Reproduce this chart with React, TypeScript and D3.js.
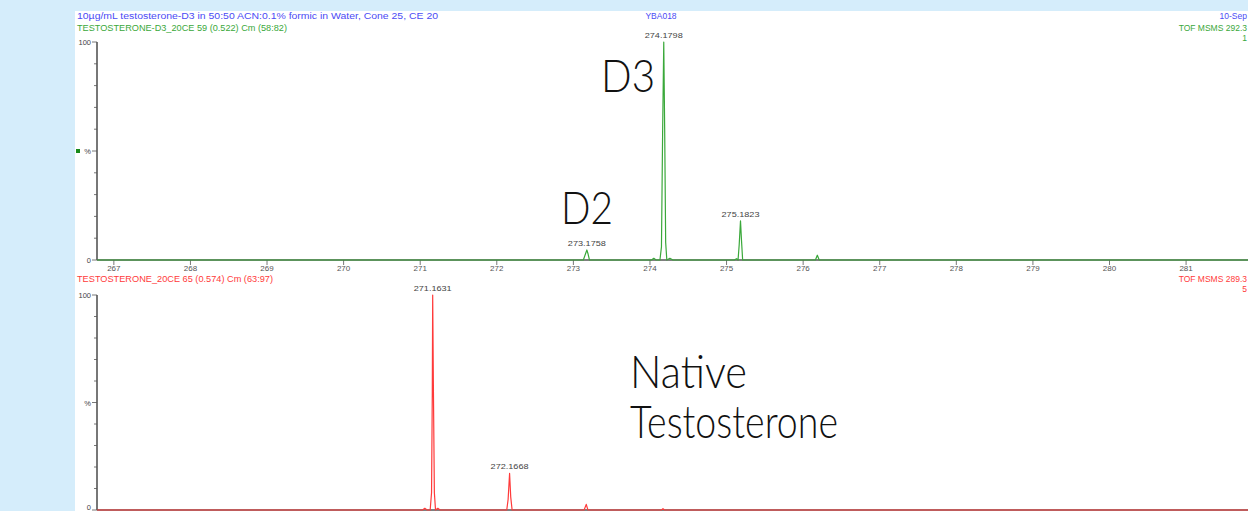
import React from "react";
import * as d3 from "d3";

// ---- data ----
const xTicks = [267, 268, 269, 270, 271, 272, 273, 274, 275, 276, 277, 278, 279, 280, 281];
const yMinorTicks = [0, 10, 20, 30, 40, 50, 60, 70, 80, 90, 100];

// D3-labelled spectrum (top, green): [m/z, %]
const d3Spectrum: [number, number][] = [
  [266.78, 0], [273.13, 0], [273.16, 3], [273.176, 4.6], [273.19, 3], [273.21, 0],
  [274.02, 0], [274.05, 0.8], [274.08, 0], [274.13, 0], [274.15, 6], [274.165, 58], [274.18, 100],
  [274.192, 60], [274.205, 8], [274.22, 0], [274.26, 0.8], [274.3, 0],
  [275.1, 0], [275.13, 0.6], [275.15, 0], [275.165, 7], [275.182, 18], [275.195, 9], [275.21, 0],
  [276.16, 0], [276.185, 2.2], [276.21, 0], [282.2, 0],
];
const d3Labels: [number, number, string][] = [
  [273.1758, 4.6, "273.1758"],
  [274.1798, 100, "274.1798"],
  [275.1823, 18, "275.1823"],
];

// Native testosterone spectrum (bottom, red)
const nativeSpectrum: [number, number][] = [
  [266.78, 0], [271.03, 0], [271.06, 0.8], [271.09, 0], [271.13, 0], [271.148, 8], [271.158, 55],
  [271.163, 100], [271.172, 58], [271.185, 8], [271.2, 0], [271.23, 0.8], [271.26, 0],
  [272.13, 0], [272.148, 5], [272.167, 17], [272.182, 6], [272.2, 0],
  [273.14, 0], [273.168, 2.6], [273.19, 0], [274.15, 0], [274.17, 0.6], [274.19, 0], [282.2, 0],
];
const nativeLabels: [number, number, string][] = [
  [271.1631, 100, "271.1631"],
  [272.1668, 17, "272.1668"],
];

const headerLine1 = "10µg/mL testosterone-D3 in 50:50 ACN:0.1% formic in Water, Cone 25, CE 20";
const headerTopTrace = "TESTOSTERONE-D3_20CE 59 (0.522) Cm (58:82)";
const headerBottomTrace = "TESTOSTERONE_20CE 65 (0.574) Cm (63:97)";

const W = 1248;
const H = 511;
const BG = "#d5edfb";
const AXIS = "#555";
const GREEN = "#3aa83a";
const RED = "#ff3a3a";
const BLUE = "#4b4bf5";
const LABEL_FONT = "'Liberation Sans', Arial, sans-serif";
const BIG_FONT = "Lato, 'Open Sans', sans-serif";

const x = d3.scaleLinear().domain([266.78, 282.2]).range([97, 1278]);

function Panel({
  y0, y1, data, labels, color, fillTicks,
}: {
  y0: number; y1: number; data: [number, number][]; labels: [number, number, string][]; color: string; fillTicks: boolean;
}) {
  const y = d3.scaleLinear().domain([0, 100]).range([y0, y1]);
  const line = d3.line<[number, number]>().x((d) => x(d[0])).y((d) => y(d[1]));
  return (
    <g>
      {/* y axis */}
      <line x1={97} x2={97} y1={y(100)} y2={y(0)} stroke={AXIS} strokeWidth={1.6} />
      {yMinorTicks.map((t) => (
        <line key={t} x1={t % 50 === 0 ? 92 : 94} x2={97} y1={y(t)} y2={y(t)} stroke={AXIS} strokeWidth={0.8} />
      ))}
      <text x={91} y={y(100) + 3} textAnchor="end" fontSize={7.5} fill="#444" fontFamily={LABEL_FONT}>100</text>
      <text x={91} y={y(50) + 3} textAnchor="end" fontSize={7.5} fill="#444" fontFamily={LABEL_FONT}>%</text>
      <text x={91} y={Math.min(y(0) + 3, H - 1)} textAnchor="end" fontSize={7.5} fill="#444" fontFamily={LABEL_FONT}>0</text>
      {/* x axis */}
      <line x1={97} x2={W} y1={y(0)} y2={y(0)} stroke={AXIS} strokeWidth={1.6} />
      {fillTicks && xTicks.map((t) => (
        <g key={t}>
          <line x1={x(t)} x2={x(t)} y1={y(0)} y2={y(0) + 5} stroke={AXIS} strokeWidth={0.8} />
          <text x={x(t)} y={y(0) + 11} textAnchor="middle" fontSize={8} fill="#555" fontFamily={LABEL_FONT}>{t}</text>
        </g>
      ))}
      {/* spectrum */}
      <path d={line(data) ?? ""} fill="none" stroke={color} strokeWidth={1.2} strokeLinejoin="round" />
      {labels.map(([mz, v, s]) => (
        <text key={s} x={x(mz) - 19} y={y(v) - 4} fontSize={8} fill="#444" fontFamily={LABEL_FONT}
          textLength={38} lengthAdjust="spacingAndGlyphs">{s}</text>
      ))}
    </g>
  );
}

export default function App() {
  return (
    <svg width={W} height={H} style={{ position: "fixed", left: 0, top: 0 }}>
      <rect x={0} y={0} width={W} height={H} fill={BG} />
      <rect x={75} y={11} width={W - 75} height={H - 11} fill="#fff" />

      {/* headers */}
      <text x={77} y={19} fontSize={8.5} fill={BLUE} fontFamily={LABEL_FONT} textLength={361} lengthAdjust="spacingAndGlyphs">{headerLine1}</text>
      <text x={661} y={19} textAnchor="middle" fontSize={8.5} fill={BLUE} fontFamily={LABEL_FONT}>YBA018</text>
      <text x={1247} y={19} textAnchor="end" fontSize={8.5} fill={BLUE} fontFamily={LABEL_FONT}>10-Sep</text>
      <text x={77} y={31} fontSize={8.5} fill={GREEN} fontFamily={LABEL_FONT} textLength={210} lengthAdjust="spacingAndGlyphs">{headerTopTrace}</text>
      <text x={1247} y={31} textAnchor="end" fontSize={8.5} fill={GREEN} fontFamily={LABEL_FONT}>TOF MSMS 292.3</text>
      <text x={1247} y={41} textAnchor="end" fontSize={8.5} fill={GREEN} fontFamily={LABEL_FONT}>1</text>
      <rect x={76} y={149} width={4} height={4} fill="#1a8a1a" />

      <Panel y0={260} y1={42} data={d3Spectrum} labels={d3Labels} color={GREEN} fillTicks={true} />

      <text x={77} y={282} fontSize={8.5} fill={RED} fontFamily={LABEL_FONT} textLength={196} lengthAdjust="spacingAndGlyphs">{headerBottomTrace}</text>
      <text x={1247} y={282} textAnchor="end" fontSize={8.5} fill={RED} fontFamily={LABEL_FONT}>TOF MSMS 289.3</text>
      <text x={1247} y={292} textAnchor="end" fontSize={8.5} fill={RED} fontFamily={LABEL_FONT}>5</text>

      <Panel y0={510} y1={295} data={nativeSpectrum} labels={nativeLabels} color={RED} fillTicks={false} />

      {/* annotations */}
      <text x={601} y={92} fontSize={46} fontWeight={300} fill="#111" fontFamily={BIG_FONT} textLength={54} lengthAdjust="spacingAndGlyphs">D3</text>
      <text x={561} y={224} fontSize={46} fontWeight={300} fill="#111" fontFamily={BIG_FONT} textLength={52} lengthAdjust="spacingAndGlyphs">D2</text>
      <text x={630} y={388} fontSize={46} fontWeight={300} fill="#111" fontFamily={BIG_FONT} textLength={117} lengthAdjust="spacingAndGlyphs">Native</text>
      <text x={630} y={438} fontSize={46} fontWeight={300} fill="#111" fontFamily={BIG_FONT} textLength={208} lengthAdjust="spacingAndGlyphs">Testosterone</text>
    </svg>
  );
}
